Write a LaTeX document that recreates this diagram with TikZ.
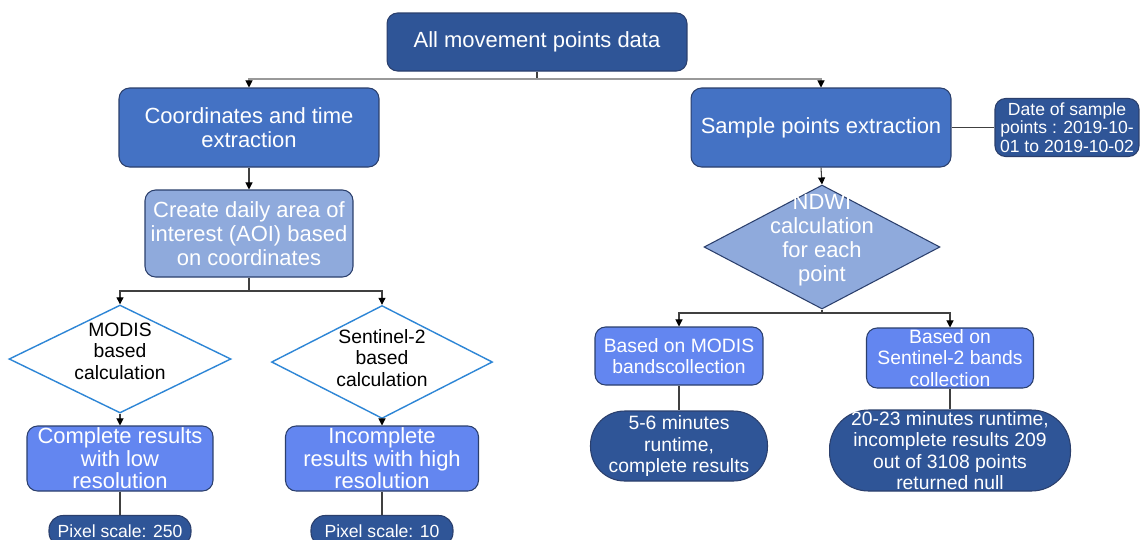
\documentclass[tikz,border=0pt]{standalone}
\usepackage{fontspec}
\setmainfont{Liberation Sans}
\usepackage{tikz}
\usetikzlibrary{shapes.geometric, arrows.meta, positioning}
\usepackage{xcolor}
\definecolor{darkblue}{HTML}{2F5597}
\definecolor{midblue}{HTML}{4472C4}
\definecolor{paleblue}{HTML}{8FAADC}
\definecolor{brightblue}{HTML}{6386F0}
\definecolor{diamondline}{HTML}{2E86D6}
\definecolor{edgeline}{HTML}{2B3F6C}

\tikzset{
  box/.style={draw=edgeline, line width=0.6pt, rounded corners=6pt, text=white, align=center, inner sep=0.5pt},
  bigtext/.style={font=\fontsize{12.5}{13.6}\selectfont},
  smalltext/.style={font=\fontsize{11}{12.2}\selectfont},
  pill/.style={draw=edgeline, line width=0.6pt, fill=darkblue, text=white, align=center, inner sep=0.5pt},
  calcbox/.style={diamond, draw=diamondline, line width=0.8pt, fill=white, inner sep=0pt},
  flow/.style={draw=black!75, line width=0.6pt, -{Triangle[length=4pt,width=4pt,color=black]}},
  link/.style={draw=black!75, line width=0.6pt},
}

\begin{document}
\begin{tikzpicture}[x=0.02cm, y=-0.02cm]
  \path[fill=white, use as bounding box] (0,0) rectangle (1140,539);

  % top of the chart
  \node[box, bigtext, fill=darkblue, minimum width=6cm, minimum height=1.16cm] (allpts) at (537,42) {All movement points data};
  \node[box, bigtext, fill=midblue, minimum width=5.2cm, minimum height=1.58cm] (coords) at (249,127.5) {Coordinates and time\\extraction};
  \node[box, bigtext, fill=midblue, minimum width=5.2cm, minimum height=1.58cm] (sample) at (821,127.5) {Sample points extraction};
  \node[box, fill=darkblue, font=\fontsize{10}{10.6}\selectfont, minimum width=2.88cm, minimum height=1.16cm] (dates) at (1067,127.5) {Date of sample\\points : 2019-10-\\01 to 2019-10-02};

  % left branch
  \node[box, bigtext, fill=paleblue, minimum width=4.16cm, minimum height=1.74cm] (aoi) at (249,233.5) {Create daily area of\\interest (AOI) based\\on coordinates};
  \node[calcbox, minimum width=4.44cm, minimum height=2.16cm] (modis) at (120,359) {};
  \node[smalltext, align=center] (modistxt) at (120,351) {MODIS\\based\\calculation};
  \node[calcbox, minimum width=4.42cm, minimum height=2.26cm] (senti) at (382,362) {};
  \node[smalltext, align=center] (sentitxt) at (382,358) {Sentinel-2\\based\\calculation};
  \node[box, fill=brightblue, font=\fontsize{12.5}{12.8}\selectfont, inner sep=0pt, minimum width=3.72cm, minimum height=1.3cm] (lowres) at (120,458.5) {Complete results\\with low\\resolution};
  \node[box, fill=brightblue, font=\fontsize{12.5}{12.8}\selectfont, inner sep=0pt, minimum width=3.86cm, minimum height=1.3cm] (highres) at (382,458.5) {Incomplete\\results with high\\resolution};
  \node[pill, rounded corners=8pt, font=\fontsize{10}{12}\selectfont, minimum width=2.84cm, minimum height=0.62cm] (scale250) at (120,531) {Pixel scale: 250};
  \node[pill, rounded corners=8pt, font=\fontsize{10}{12}\selectfont, minimum width=2.84cm, minimum height=0.62cm] (scale10) at (382,531) {Pixel scale: 10};

  % right branch
  \node[diamond, draw=edgeline, line width=0.6pt, fill=paleblue, inner sep=0pt, minimum width=4.72cm, minimum height=2.48cm] (ndwi) at (822,247) {};
  \node[bigtext, text=white, align=center] (ndwitxt) at (822,240) {NDWI\\calculation\\for each\\point};
  \node[box, smalltext, fill=brightblue, minimum width=3.36cm, minimum height=1.16cm] (modisband) at (679,356) {Based on MODIS\\bandscollection};
  \node[box, smalltext, fill=brightblue, minimum width=3.34cm, minimum height=1.2cm] (sentiband) at (950,358) {Based on\\Sentinel-2 bands\\collection};
  \node[pill, smalltext, rounded corners=0.68cm, minimum width=3.54cm, minimum height=1.4cm] (fastrun) at (679,446) {5-6 minutes\\runtime,\\complete results};
  \node[pill, smalltext, rounded corners=0.78cm, minimum width=4.82cm, minimum height=1.62cm] (slowrun) at (950,450.5) {20-23 minutes runtime,\\incomplete results 209\\out of 3108 points\\returned null};

  % connectors
  \coordinate (split1) at (537,79);
  \coordinate (split2) at (249,291);
  \coordinate (split3) at (822,313);
  \draw[link] (allpts.south) -- (split1);
  \draw[flow, draw=black!40] (split1) -| (coords.north);
  \draw[flow, draw=black!40] (split1) -| (sample.north);
  \draw[flow] (coords.south) -- (aoi.north);
  \draw[link] (aoi.south) -- (split2);
  \draw[flow] (split2) -| (modis.north);
  \draw[flow] (split2) -| (senti.north);
  \draw[flow] (modis.south) -- (lowres.north);
  \draw[flow] (senti.south) -- (highres.north);
  \draw[link] (lowres.south) -- (scale250.north);
  \draw[link] (highres.south) -- (scale10.north);
  \draw[link] (sample.east) -- (dates.west);
  \draw[flow] (sample.south) -- (ndwi.north);
  \draw[link] (ndwi.south) -- (split3);
  \draw[flow] (split3) -| (modisband.north);
  \draw[flow] (split3) -| (sentiband.north);
  \draw[link] (modisband.south) -- (fastrun.north);
  \draw[link] (sentiband.south) -- (slowrun.north);
\end{tikzpicture}
\end{document}
